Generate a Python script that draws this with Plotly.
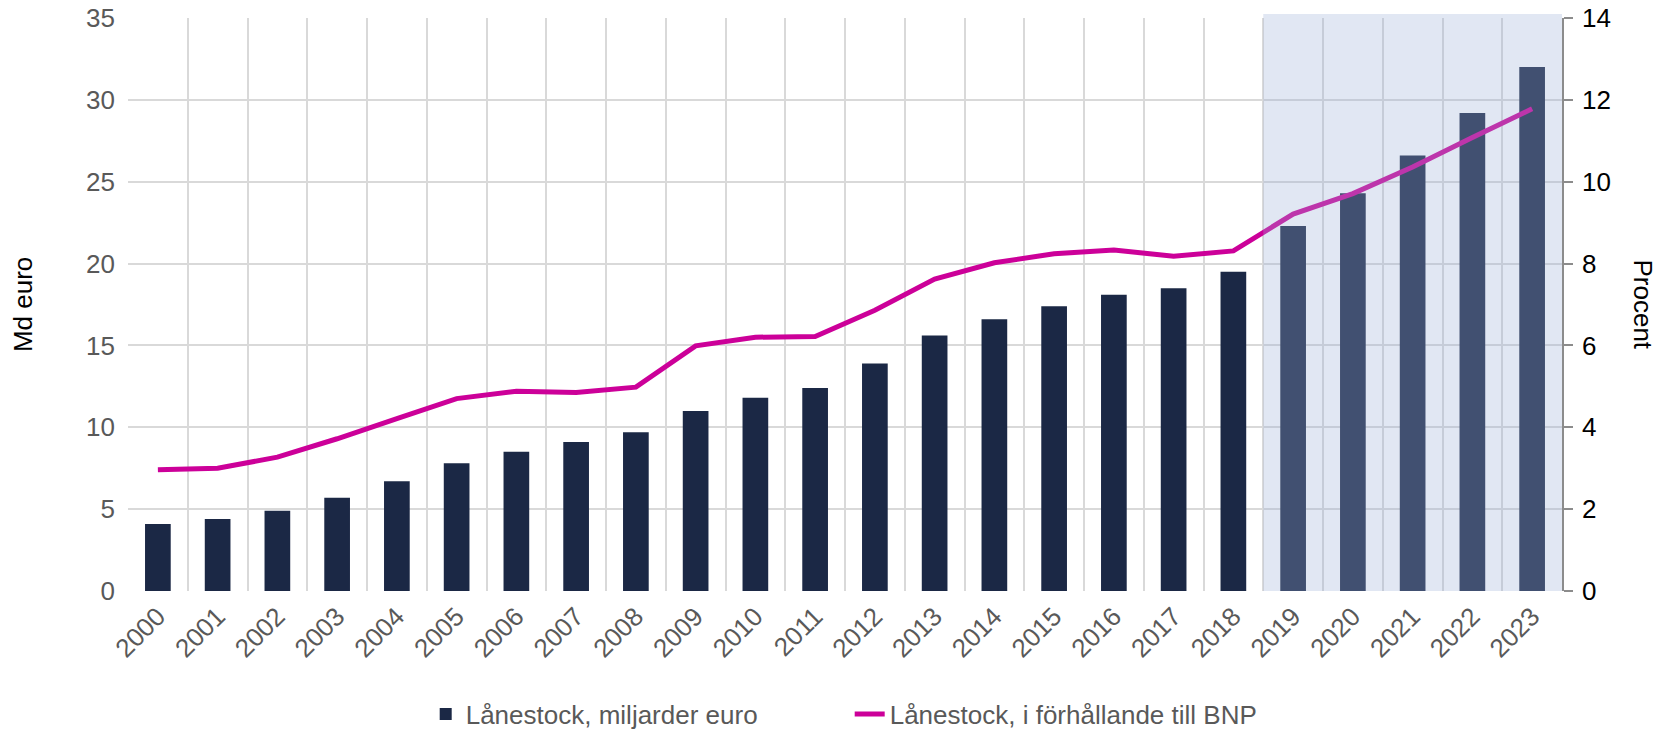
import plotly.graph_objects as go

years = list(range(2000, 2024))
year_labels = [str(y) for y in years]
loan_stock_bn = [4.1, 4.4, 4.9, 5.7, 6.7, 7.8, 8.5, 9.1, 9.7, 11.0, 11.8, 12.4, 13.9, 15.6,
                 16.6, 17.4, 18.1, 18.5, 19.5, 22.3, 24.3, 26.6, 29.2, 32.0]
loan_stock_pct_gdp = [2.96, 3.0, 3.27, 3.72, 4.21, 4.7, 4.88, 4.85, 4.98, 5.99, 6.2, 6.22,
                      6.86, 7.62, 8.02, 8.24, 8.33, 8.18, 8.31, 9.21, 9.71, 10.36, 11.08, 11.78]
forecast_start = 2019

FONT = "Liberation Sans, Arial, sans-serif"

fig = go.Figure()
fig.add_trace(go.Bar(
    x=years, y=loan_stock_bn, name="Lånestock, miljarder euro",
    marker=dict(color="#1B2845", line=dict(width=0)), width=0.43, yaxis="y",
))
fig.add_trace(go.Scatter(
    x=years, y=loan_stock_pct_gdp, name="Lånestock, i förhållande till BNP",
    mode="lines", line=dict(color="#CC0099", width=5), yaxis="y2",
))

fig.add_shape(type="rect", xref="x", yref="paper",
              x0=forecast_start - 0.5, x1=years[-1] + 0.5, y0=0, y1=1.007,
              fillcolor="rgba(155,175,215,0.3)", line=dict(width=0), layer="above")

grid = "#D9D9D9"
fig.update_layout(
    width=1660, height=738,
    margin=dict(l=128, r=98, t=18, b=147, autoexpand=False),
    paper_bgcolor="white", plot_bgcolor="white",
    font=dict(family=FONT, size=26, color="#595959"),
    bargap=0.5,
    showlegend=True,
    legend=dict(orientation="h", x=0.2076, xanchor="left", y=-0.256, yanchor="bottom",
                font=dict(size=26, color="#595959"), traceorder="normal",
                entrywidth=379, entrywidthmode="pixels", bgcolor="rgba(0,0,0,0)"),
    xaxis=dict(
        range=[years[0] - 0.5, years[-1] + 0.5], automargin=False,
        tickmode="array", tickvals=years, ticktext=year_labels,
        tickangle=-45, showgrid=False, zeroline=False, showline=False,
        ticks="", tickfont=dict(size=26, color="#595959"), ticklabelstandoff=4,
        minor=dict(tickmode="array",
                   tickvals=[y - 0.5 for y in years] + [years[-1] + 0.5],
                   showgrid=True, gridcolor=grid, gridwidth=1.5, ticks=""),
    ),
    yaxis=dict(
        range=[0, 35], dtick=5, showgrid=True, gridcolor=grid, gridwidth=1.5,
        zeroline=False, showline=False, ticks="", automargin=False,
        tickfont=dict(size=26, color="#595959"), ticklabelstandoff=12,
    ),
    yaxis2=dict(
        range=[0, 14], dtick=2, overlaying="y", side="right", anchor="x",
        showgrid=False, zeroline=False, showline=True, linecolor="#8C8C8C", linewidth=1.5,
        ticks="outside", ticklen=9, tickcolor="#8C8C8C", tickwidth=1.5, automargin=False,
        tickfont=dict(size=26, color="#000000"), ticklabelstandoff=4,
    ),
    annotations=[
        dict(text="Md euro", xref="paper", yref="paper", x=-0.0735, y=0.5,
             xanchor="center", yanchor="middle", textangle=-90, showarrow=False,
             font=dict(size=26, color="#000000")),
        dict(text="Procent", xref="paper", yref="paper", x=1.0565, y=0.5,
             xanchor="center", yanchor="middle", textangle=90, showarrow=False,
             font=dict(size=26, color="#000000")),
    ],
)

fig.write_html("out.html",
               config={"displayModeBar": False},
               post_script="document.body.style.margin='0';document.body.style.padding='0';"
                           "document.body.style.overflow='hidden';")
